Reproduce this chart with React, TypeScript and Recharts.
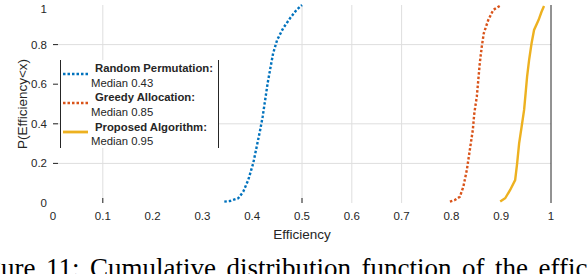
import { LineChart, Line, XAxis, YAxis, ReferenceLine, Legend } from "recharts";

// efficiency (x) and cumulative probability (y)
const randomEff = [0.344, 0.355, 0.372, 0.382, 0.392, 0.402, 0.409, 0.416, 0.421, 0.426, 0.431, 0.437, 0.442, 0.45, 0.462, 0.476, 0.489, 0.5];
const randomCdf = [0.007, 0.01, 0.024, 0.057, 0.116, 0.2, 0.284, 0.369, 0.436, 0.52, 0.605, 0.688, 0.756, 0.823, 0.882, 0.933, 0.975, 1.0];

const greedyEff = [0.797, 0.807, 0.817, 0.824, 0.831, 0.837, 0.843, 0.846, 0.851, 0.854, 0.857, 0.861, 0.865, 0.874, 0.884, 0.9];
const greedyCdf = [0.007, 0.015, 0.032, 0.082, 0.167, 0.268, 0.369, 0.453, 0.537, 0.621, 0.706, 0.79, 0.857, 0.924, 0.975, 1.0];

const proposedEff = [0.898, 0.908, 0.918, 0.928, 0.932, 0.936, 0.941, 0.946, 0.949, 0.952, 0.956, 0.961, 0.966, 0.975, 0.981, 0.986];
const proposedCdf = [0.007, 0.024, 0.066, 0.116, 0.2, 0.301, 0.385, 0.47, 0.554, 0.638, 0.722, 0.807, 0.874, 0.924, 0.966, 0.995];

const xTicks = [0, 0.1, 0.2, 0.3, 0.4, 0.5, 0.6, 0.7, 0.8, 0.9, 1];
const yTicks = [0, 0.2, 0.4, 0.6, 0.8, 1];

// grid lines / tick marks that show up in the original figure
const gridX = [0.1, 0.5, 0.6, 0.7];
const gridY = [0.2, 0.4, 0.8];
const bottomMarks = [0.1, 0.5];
const leftMarks = [0.2, 0.4, 0.6, 0.8];

const seriesNames = ["Random Permutation:", "Greedy Allocation:", "Proposed Algorithm:"];
const medians = ["Median 0.43", "Median 0.85", "Median 0.95"];
const seriesColors = ["#0072BD", "#D95319", "#EDB120"];

const zip = (xs: number[], ys: number[]) => xs.map((x, i) => ({ eff: x, p: ys[i] }));

const randomData = zip(randomEff, randomCdf);
const greedyData = zip(greedyEff, greedyCdf);
const proposedData = zip(proposedEff, proposedCdf);

const TEXT = "#262626";
const GRID = "#dedede";
const FONT = "'Liberation Sans', Arial, sans-serif";

// MATLAB style: tick marks point into the plot
function BottomTick({ x, y, payload }: any) {
  const v = payload.value;
  return (
    <g>
      {bottomMarks.includes(v) && <line x1={x} x2={x} y1={y - 9} y2={y - 14} stroke={TEXT} />}
      <text x={x} y={y} dy="0.71em" textAnchor="middle" fill={TEXT} fontSize={11.5} fontFamily={FONT}>
        {v}
      </text>
    </g>
  );
}

function LeftTick({ x, y, payload }: any) {
  const v = payload.value;
  return (
    <g>
      {leftMarks.includes(v) && <line x1={x + 6} x2={x + 11} y1={y} y2={y} stroke={TEXT} />}
      <text x={x} y={y} dy="0.355em" textAnchor="end" fill={TEXT} fontSize={11.5} fontFamily={FONT}>
        {v}
      </text>
    </g>
  );
}

function TopTick({ x, y }: any) {
  return <line x1={x} x2={x} y1={y} y2={y + 5} stroke={TEXT} />;
}

function RightTick({ x, y }: any) {
  return <line x1={x} x2={x - 5} y1={y} y2={y} stroke={TEXT} />;
}

function LegendBox() {
  return (
    <div
      style={{
        width: 159,
        height: 88,
        boxSizing: "border-box",
        borderLeft: `1px solid ${TEXT}`,
        borderRight: `1px solid ${TEXT}`,
        background: "#fff",
        fontFamily: FONT,
        fontSize: 11.3,
        color: TEXT,
        paddingTop: 1,
      }}
    >
      {seriesNames.map((name, i) => (
        <div key={i} style={{ display: "flex", alignItems: "center", height: 29.3 }}>
          <svg width={30} height={10} style={{ flex: "none", marginTop: -4 }}>
            <line
              x1={2}
              x2={27}
              y1={5}
              y2={5}
              stroke={seriesColors[i]}
              strokeWidth={i === 2 ? 2.8 : 2.4}
              strokeDasharray={i === 2 ? undefined : "2.5 2"}
            />
          </svg>
          <div style={{ lineHeight: "14.5px" }}>
            <div style={{ fontWeight: "bold", paddingLeft: 4 }}>{name}</div>
            <div>{medians[i]}</div>
          </div>
        </div>
      ))}
    </div>
  );
}

export default function App() {
  return (
    <div style={{ position: "absolute", left: 0, top: 0, width: 588, height: 274, overflow: "hidden", background: "#fff" }}>
      <LineChart width={588} height={274} margin={{ top: 4, right: 36, left: 8, bottom: 45 }}>
        {gridX.map((v) => (
          <ReferenceLine key={"gx" + v} x={v} stroke={GRID} />
        ))}
        {gridY.map((v) => (
          <ReferenceLine key={"gy" + v} y={v} stroke={GRID} />
        ))}
        <XAxis
          xAxisId="top"
          orientation="top"
          type="number"
          dataKey="eff"
          domain={[0, 1]}
          ticks={gridX}
          height={1}
          tickSize={0}
          tickMargin={0}
          axisLine={false}
          tickLine={false}
          tick={<TopTick />}
        />
        <XAxis
          type="number"
          dataKey="eff"
          domain={[0, 1]}
          ticks={xTicks}
          height={26}
          axisLine={false}
          tickLine={false}
          tickSize={0}
          tickMargin={9}
          tick={<BottomTick />}
          label={{ value: "Efficiency", position: "bottom", offset: 0, fill: TEXT, fontSize: 13.5, fontFamily: FONT }}
        />
        <YAxis
          type="number"
          domain={[0, 1]}
          ticks={yTicks}
          width={45}
          axisLine={false}
          tickLine={false}
          tickSize={0}
          tickMargin={6}
          tick={<LeftTick />}
          label={{
            value: "P(Efficiency<x)",
            angle: -90,
            position: "insideLeft",
            offset: 14,
            fill: TEXT,
            fontSize: 13.5,
            fontFamily: FONT,
            style: { textAnchor: "middle" },
          }}
        />
        <YAxis
          yAxisId="right"
          orientation="right"
          type="number"
          domain={[0, 1]}
          ticks={gridY}
          width={1}
          tickSize={0}
          tickMargin={0}
          tickLine={false}
          tick={<RightTick />}
          axisLine={{ stroke: TEXT }}
        />
        <Legend
          layout="vertical"
          align="center"
          verticalAlign="middle"
          content={<LegendBox />}
          wrapperStyle={{ left: 60, top: 60, width: 159, height: 88 }}
        />
        <Line
          data={randomData}
          dataKey="p"
          name={seriesNames[0]}
          type="linear"
          stroke={seriesColors[0]}
          strokeWidth={2.4}
          strokeDasharray="2.5 2"
          dot={false}
          isAnimationActive={false}
        />
        <Line
          data={greedyData}
          dataKey="p"
          name={seriesNames[1]}
          type="linear"
          stroke={seriesColors[1]}
          strokeWidth={2.4}
          strokeDasharray="2.5 2"
          dot={false}
          isAnimationActive={false}
        />
        <Line
          data={proposedData}
          dataKey="p"
          name={seriesNames[2]}
          type="linear"
          stroke={seriesColors[2]}
          strokeWidth={2.4}
          dot={false}
          isAnimationActive={false}
        />
      </LineChart>
      <div
        style={{
          position: "absolute",
          left: -35,
          top: 255,
          whiteSpace: "nowrap",
          fontFamily: "'Liberation Serif', 'Times New Roman', serif",
          fontSize: 27,
          lineHeight: "27px",
          wordSpacing: 3.75,
          color: "#000",
        }}
      >
        Figure 11: Cumulative distribution function of the efficiency
      </div>
    </div>
  );
}
